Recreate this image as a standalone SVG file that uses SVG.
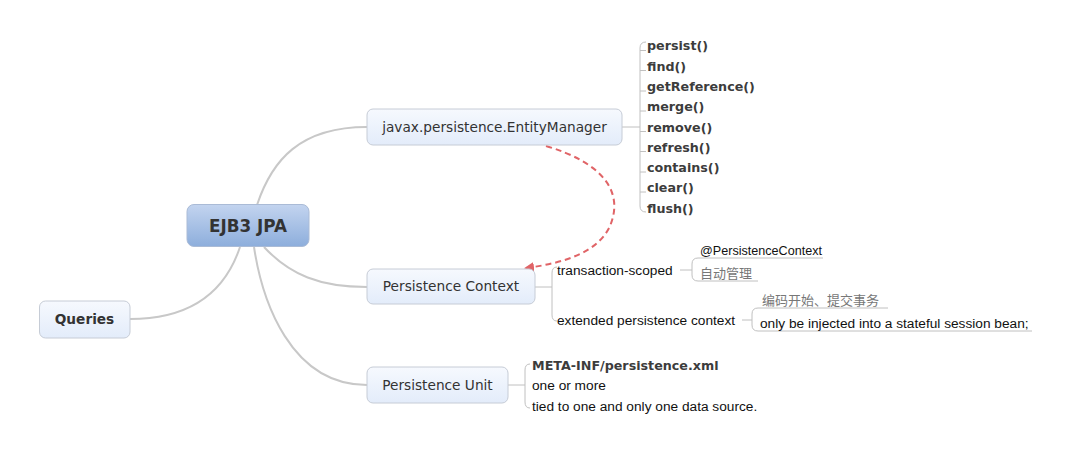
<svg xmlns="http://www.w3.org/2000/svg" width="1072" height="451" viewBox="0 0 1072 451">
<defs>
<linearGradient id="gRoot" x1="0" y1="0" x2="0" y2="1">
<stop offset="0" stop-color="#c3d4ef"/>
<stop offset="1" stop-color="#8daedc"/>
</linearGradient>
<linearGradient id="gNode" x1="0" y1="0" x2="0" y2="1">
<stop offset="0" stop-color="#f6f9fe"/>
<stop offset="1" stop-color="#e3ecfa"/>
</linearGradient>
<marker id="arr" viewBox="0 0 10 10" refX="8" refY="5" markerWidth="5" markerHeight="5" orient="auto" markerUnits="strokeWidth">
<path d="M0,0 L10,5 L0,10 z" fill="#e06467"/>
</marker>
<style>
.node{fill:url(#gNode);stroke:#c6ccd6;stroke-width:1}
.root{fill:url(#gRoot);stroke:#aabbd6;stroke-width:1}
.lbl{font-family:"DejaVu Sans",Verdana,sans-serif;font-size:13.7px;fill:#333;text-anchor:middle}
.b{font-weight:bold}
.m{font-family:"DejaVu Sans",Verdana,sans-serif;font-size:12.7px;font-weight:bold;fill:#3c3c3c}
.t{font-family:"Liberation Sans",Arial,sans-serif;font-size:13.7px;fill:#111}
.cn{font-family:"Noto Sans CJK SC",sans-serif;font-size:13px;fill:#777}
.main{fill:none;stroke:#c8c8c8;stroke-width:2}
.br{fill:none;stroke:#c0c0c0;stroke-width:1}
.dash{fill:none;stroke:#e06467;stroke-width:2;stroke-dasharray:6,4}
</style>
</defs>
<rect width="1072" height="451" fill="#ffffff"/>
<g id="connectors">
<path class="main" d="M257,205 C272,160 300,127 367,127"/>
<path class="main" d="M240,247 C225,292 190,319 130,319"/>
<path class="main" d="M264,247 C290,275 320,287 367,287"/>
<path class="main" d="M254,247 C262,300 290,385 367,385"/>
<path class="br" d="M622,127 H640"/>
<path class="br" d="M646,42 Q640,42 640,48 V206 Q640,212 646,212"/>
<path class="br" d="M640,50.5 H646 M640,70.5 H646 M640,91 H646 M640,111 H646 M640,131.5 H646 M640,151.5 H646 M640,172 H646 M640,192 H646"/>
<path class="br" d="M535,287 H552"/>
<path class="br" d="M557,267 Q552,267 552,273 V315 Q552,321 557,321"/>
<path class="br" d="M680,270 H692"/>
<path class="br" d="M823,258 H698 Q692,258 692,264 V275 Q692,281 698,281 H758"/>
<path class="br" d="M742,320 H752"/>
<path class="br" d="M888,308 H758 Q752,308 752,314 V325 Q752,331 758,331 H1032"/>
<path class="br" d="M508,385 H525"/>
<path class="br" d="M530,364 Q525,364 525,370 V402 Q525,408 530,408"/>
<path class="dash" d="M546,146 C600,162 625,190 610,226 C598,252 565,263 526,268" marker-end="url(#arr)"/>
</g>
<g id="root">
<rect class="root" x="187" y="204.5" width="122" height="42" rx="7"/>
<text class="lbl b" x="248" y="232" style="font-size:16.8px">EJB3 JPA</text>
</g>
<g id="entitymanager">
<rect class="node" x="367" y="109" width="255" height="36" rx="6"/>
<text class="lbl" x="494.5" y="132">javax.persistence.EntityManager</text>
</g>
<g id="methods">
<text class="m" x="647" y="50">persist()</text>
<text class="m" x="647" y="70.5">find()</text>
<text class="m" x="647" y="91">getReference()</text>
<text class="m" x="647" y="111">merge()</text>
<text class="m" x="647" y="131.5">remove()</text>
<text class="m" x="647" y="151.5">refresh()</text>
<text class="m" x="647" y="172">contains()</text>
<text class="m" x="647" y="192">clear()</text>
<text class="m" x="647" y="212.5">flush()</text>
</g>
<g id="persistencecontext">
<rect class="node" x="367" y="269" width="168" height="35" rx="6"/>
<text class="lbl" x="451" y="291">Persistence Context</text>
</g>
<g id="transaction-scoped">
<text class="t" x="557" y="275">transaction-scoped</text>
<text class="t" x="700" y="255" style="font-size:12.6px">@PersistenceContext</text>
<text class="cn" x="700" y="278">自动管理</text>
</g>
<g id="extended">
<text class="t" x="557" y="325">extended persistence context</text>
<text class="cn" x="762" y="305">编码开始、提交事务</text>
<text class="t" x="760" y="328">only be injected into a stateful session bean;</text>
</g>
<g id="persistenceunit">
<rect class="node" x="367" y="367" width="141" height="36" rx="6"/>
<text class="lbl" x="437.5" y="390">Persistence Unit</text>
</g>
<g id="unit-items">
<text class="m" x="532" y="370">META-INF/persistence.xml</text>
<text class="t" x="532" y="390">one or more</text>
<text class="t" x="532" y="411">tied to one and only one data source.</text>
</g>
<g id="queries">
<rect class="node" x="39.5" y="301" width="90.5" height="37" rx="6"/>
<text class="lbl b" x="84.5" y="324">Queries</text>
</g>
</svg>
